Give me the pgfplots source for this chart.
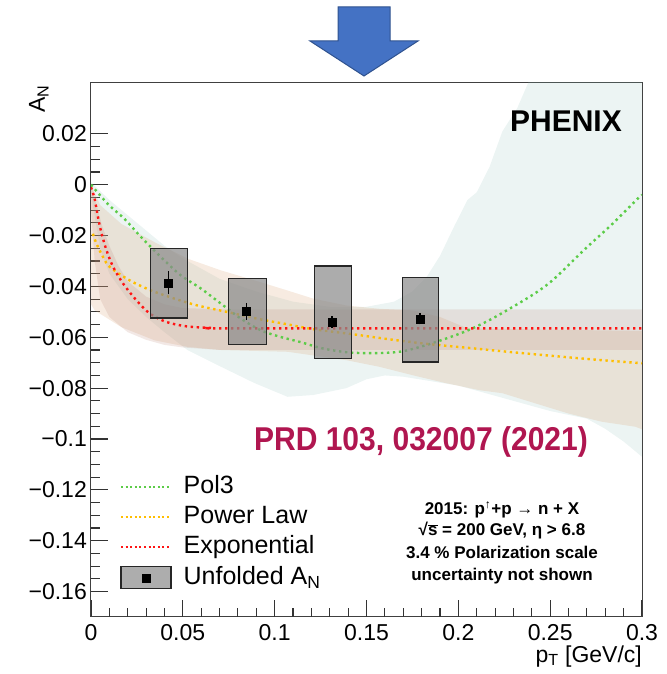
\documentclass[border=0pt]{standalone}
\usepackage{pgfplots}
\pgfplotsset{compat=1.18}
\usepackage{fontspec}
\setmainfont{Liberation Sans}
\definecolor{pgreen}{RGB}{92,204,72}
\definecolor{porange}{RGB}{255,190,0}
\definecolor{pred}{RGB}{255,20,20}
\definecolor{bteal}{RGB}{140,190,184}
\definecolor{bpeach}{RGB}{217,160,112}
\definecolor{bexp}{RGB}{191,140,127}
\definecolor{prdred}{RGB}{176,22,80}
\definecolor{arrowfill}{RGB}{68,114,196}
\definecolor{arrowdraw}{RGB}{47,82,143}
\begin{document}
\begin{tikzpicture}
\path[use as bounding box] (-91pt,-57pt) rectangle (575pt,617pt);
% decorative arrow above the chart
\draw[arrowdraw, fill=arrowfill, line width=1pt]
  (247pt,610pt) -- (299pt,610pt) -- (299pt,576pt) -- (327pt,576pt) -- (273pt,541pt)
  -- (219pt,576pt) -- (247pt,576pt) -- cycle;
\begin{axis}[
  at={(0,0)}, anchor=south west,
  width=551pt, height=534pt, scale only axis,
  xmin=0, xmax=0.3, ymin=-0.17, ymax=0.04,
  xtick={0,0.05,0.1,0.15,0.2,0.25,0.3},
  xticklabels={0,0.05,0.1,0.15,0.2,0.25,0.3},
  minor x tick num=4,
  ytick={-0.16,-0.14,-0.12,-0.1,-0.08,-0.06,-0.04,-0.02,0,0.02},
  yticklabels={−0.16,−0.14,−0.12,−0.1,−0.08,−0.06,−0.04,−0.02,0,0.02},
  minor y tick num=3,
  tick align=inside, xtick pos=bottom, ytick pos=left,
  major tick length=17pt, minor tick length=9pt,
  every tick/.append style={black!80, line width=1.1pt},
  every minor tick/.append style={black!80, line width=1.1pt},
  axis line style={black!75, line width=1pt},
  ticklabel style={font=\fontsize{23}{26}\selectfont},
  xticklabel style={anchor=north, inner sep=0pt, yshift=-7pt},
  yticklabel style={anchor=east, inner sep=0pt, xshift=-4pt},
  legend style={draw=none, fill=none, at={(0.05263,0.26404)}, anchor=north west,
    inner sep=0pt, row sep=9pt, column sep=12pt,
    font=\fontsize{25}{28}\selectfont,
    nodes={inner sep=0pt, text height=17pt, text depth=4pt}},
  legend cell align=left,
]
% ---- bands ----
\addplot[draw=none, fill=bteal, fill opacity=0.17, forget plot] coordinates {
(0,0.001) (0.01,-0.006) (0.02,-0.012) (0.03,-0.018) (0.04,-0.024) (0.05,-0.029) (0.06,-0.033) (0.07,-0.037) (0.09,-0.042) (0.11,-0.046) (0.13,-0.048) (0.15,-0.048) (0.165,-0.046) (0.175,-0.042) (0.183,-0.036) (0.19,-0.028) (0.198,-0.016) (0.205,-0.006) (0.21,-0.003) (0.217,0.007) (0.224,0.021) (0.232,0.030) (0.238,0.040) (0.24,0.045) (0.3,0.045)
(0.3,-0.107) (0.29,-0.101) (0.28,-0.096) (0.27,-0.092) (0.25,-0.089) (0.2,-0.079) (0.17,-0.0755) (0.16,-0.075) (0.15,-0.0765) (0.139,-0.080) (0.121,-0.0827) (0.107,-0.0834) (0.089,-0.078) (0.0708,-0.0716) (0.0527,-0.0651) (0.04,-0.058) (0.03,-0.052) (0.02,-0.045) (0.01,-0.035) (0.005,-0.025) (0,-0.004)
} --cycle;
\addplot[draw=none, fill=bpeach, fill opacity=0.21, forget plot] coordinates {
(0,0) (0.005,-0.008) (0.0165,-0.0154) (0.0346,-0.0226) (0.0527,-0.0291) (0.0708,-0.0337) (0.089,-0.0376) (0.107,-0.0416) (0.121,-0.0448) (0.139,-0.0475) (0.157,-0.0488) (0.175,-0.0494) (0.19,-0.052) (0.205,-0.0565) (0.25,-0.057) (0.3,-0.0575)
(0.3,-0.0962) (0.2965,-0.0952) (0.278,-0.0932) (0.26,-0.09) (0.242,-0.086) (0.224,-0.082) (0.2114,-0.0808) (0.193,-0.078) (0.175,-0.0749) (0.157,-0.0716) (0.139,-0.069) (0.107,-0.0657) (0.0708,-0.065) (0.0527,-0.0638) (0.0346,-0.0612) (0.0165,-0.056) (0.002,-0.0494) (0,-0.047)
} --cycle;
\addplot[draw=none, fill=bexp, fill opacity=0.2, forget plot] coordinates {
(0,0) (0.003,-0.008) (0.006,-0.016) (0.01,-0.024) (0.015,-0.032) (0.02,-0.038) (0.03,-0.044) (0.04,-0.047) (0.05,-0.0485) (0.07,-0.049) (0.3,-0.049)
(0.3,-0.065) (0.07,-0.065) (0.05,-0.064) (0.04,-0.063) (0.03,-0.061) (0.02,-0.058) (0.01,-0.052) (0.005,-0.045) (0.002,-0.03) (0,-0.01)
} --cycle;
% ---- fit curves ----
\addplot[pgreen, line width=2.4pt, dash pattern=on 2.4pt off 3.6pt, smooth,
  legend image code/.code={\draw[pgreen, line width=1.8pt, dash pattern=on 2pt off 2.6pt] (0pt,0pt) -- (48pt,0pt);}]
coordinates {
(0,0) (0.0092,-0.0076) (0.0183,-0.0135) (0.0274,-0.0207) (0.040,-0.0298) (0.049,-0.0357) (0.060,-0.0409) (0.0708,-0.0468) (0.0817,-0.0527) (0.0926,-0.0573) (0.1034,-0.0599) (0.1136,-0.0618) (0.1263,-0.0644) (0.1408,-0.066) (0.157,-0.0662) (0.1697,-0.0655) (0.1824,-0.0631) (0.1933,-0.0605) (0.2042,-0.0576) (0.2168,-0.0533) (0.2295,-0.0481) (0.2422,-0.0425) (0.2522,-0.0370) (0.2694,-0.0250) (0.2839,-0.0154) (0.2975,-0.0056) (0.3,-0.0040)
};
\addlegendentry{Pol3}
\addplot[porange, line width=2.4pt, dash pattern=on 2.4pt off 3.6pt, smooth,
  legend image code/.code={\draw[porange, line width=1.8pt, dash pattern=on 2pt off 2.6pt] (0pt,0pt) -- (48pt,0pt);}]
coordinates {
(0.001,-0.0193) (0.003,-0.0232) (0.0066,-0.0285) (0.0103,-0.0324) (0.021,-0.0376) (0.0328,-0.0416) (0.0455,-0.0448) (0.058,-0.0475) (0.0745,-0.0501) (0.0926,-0.0530) (0.107,-0.0549) (0.1208,-0.0568) (0.1426,-0.0588) (0.1625,-0.0608) (0.1842,-0.0627) (0.206,-0.0642) (0.224,-0.0655) (0.251,-0.0673) (0.278,-0.0690) (0.3,-0.0702)
};
\addlegendentry{Power Law}
\addplot[pred, line width=2.4pt, dash pattern=on 2.4pt off 3.6pt, smooth,
  legend image code/.code={\draw[pred, line width=1.8pt, dash pattern=on 2pt off 2.6pt] (0pt,0pt) -- (48pt,0pt);}]
coordinates {
(0,-0.001) (0.0018,-0.005) (0.003,-0.0095) (0.004,-0.0135) (0.0058,-0.0193) (0.0085,-0.0259) (0.0121,-0.0324) (0.0176,-0.039) (0.0248,-0.0455) (0.0321,-0.0507) (0.0411,-0.0540) (0.052,-0.0557) (0.065,-0.0563) (0.08,-0.0565) (0.3,-0.0565)
};
\addlegendentry{Exponential}
% ---- systematic boxes ----
\addplot[draw=black!85, line width=1.2pt, fill=black!45, fill opacity=0.72, forget plot]
  coordinates {(0.0322,-0.0524) (0.0527,-0.0524) (0.0527,-0.0250) (0.0322,-0.0250)} --cycle;
\addplot[draw=black!85, line width=1.2pt, fill=black!45, fill opacity=0.72, forget plot]
  coordinates {(0.0750,-0.0629) (0.0955,-0.0629) (0.0955,-0.0370) (0.0750,-0.0370)} --cycle;
\addplot[draw=black!85, line width=1.2pt, fill=black!45, fill opacity=0.72, forget plot]
  coordinates {(0.1217,-0.0684) (0.1417,-0.0684) (0.1417,-0.0320) (0.1217,-0.0320)} --cycle;
\addplot[draw=black!85, line width=1.2pt, fill=black!45, fill opacity=0.72, forget plot]
  coordinates {(0.1697,-0.0697) (0.1893,-0.0697) (0.1893,-0.0366) (0.1697,-0.0366)} --cycle;
% ---- data points ----
\addplot[only marks, mark=square*, mark size=4pt, black, forget plot,
  error bars/.cd, y dir=both, y explicit,
  error bar style={line width=1.4pt, black},
  error mark options={mark size=3pt, line width=1.4pt, black}]
coordinates {
(0.0422,-0.0386) +- (0,0.0033)
(0.0846,-0.0498) +- (0,0.0022)
(0.1312,-0.0540) +- (0,0.0010)
(0.1792,-0.0527) +- (0,0.0010)
};
\addlegendimage{legend image code/.code={
  \draw[draw=black!85, line width=1.2pt, fill=black!32] (0pt,-11pt) rectangle (50pt,11pt);
  \fill[black] (21pt,-4pt) rectangle (29pt,4pt);}}
\addlegendentry{Unfolded A\textsubscript{N}}
% ---- bottom axis ticks (drawn explicitly for visibility) ----
\pgfplotsinvokeforeach{0.01,0.02,0.03,0.04,0.06,0.07,0.08,0.09,0.11,0.12,0.13,0.14,0.16,0.17,0.18,0.19,0.21,0.22,0.23,0.24,0.26,0.27,0.28,0.29}{
  \draw[black!80, line width=1.1pt] (axis cs:#1,-0.17) -- ++(0pt,9pt);}
\pgfplotsinvokeforeach{0.05,0.1,0.15,0.2,0.25}{
  \draw[black!80, line width=1.1pt] (axis cs:#1,-0.17) -- ++(0pt,17pt);}
\end{axis}
% ---- labels and texts ----
\node[rotate=90, anchor=base east, inner sep=0pt, font=\fontsize{23}{26}\selectfont] at (-46pt,532pt) {A\textsubscript{N}};
\node[anchor=base east, inner sep=0pt, font=\fontsize{23}{26}\selectfont] at (551pt,-45pt) {p\textsubscript{T} [GeV/c]};
\node[anchor=base east, inner sep=0pt, font=\fontsize{30}{34}\selectfont\bfseries] at (531pt,485pt) {PHENIX};
\node[anchor=base, inner sep=0pt, text=prdred, font=\fontsize{33}{36}\selectfont\bfseries] at (330pt,166pt) {\scalebox{0.91}[1]{PRD 103, 032007 (2021)}};
\begin{scope}[every node/.style={anchor=base, inner sep=0pt, font=\fontsize{17}{20}\selectfont\bfseries}]
\node at (411pt,102pt) {2015: p\textsuperscript{↑}+p → n + X};
\node at (411pt,81pt) {√$\overline{\mbox{s}}$ = 200 GeV, η > 6.8};
\node at (411pt,58pt) {3.4 \% Polarization scale};
\node at (411pt,36pt) {uncertainty not shown};
\end{scope}
\end{tikzpicture}
\end{document}
